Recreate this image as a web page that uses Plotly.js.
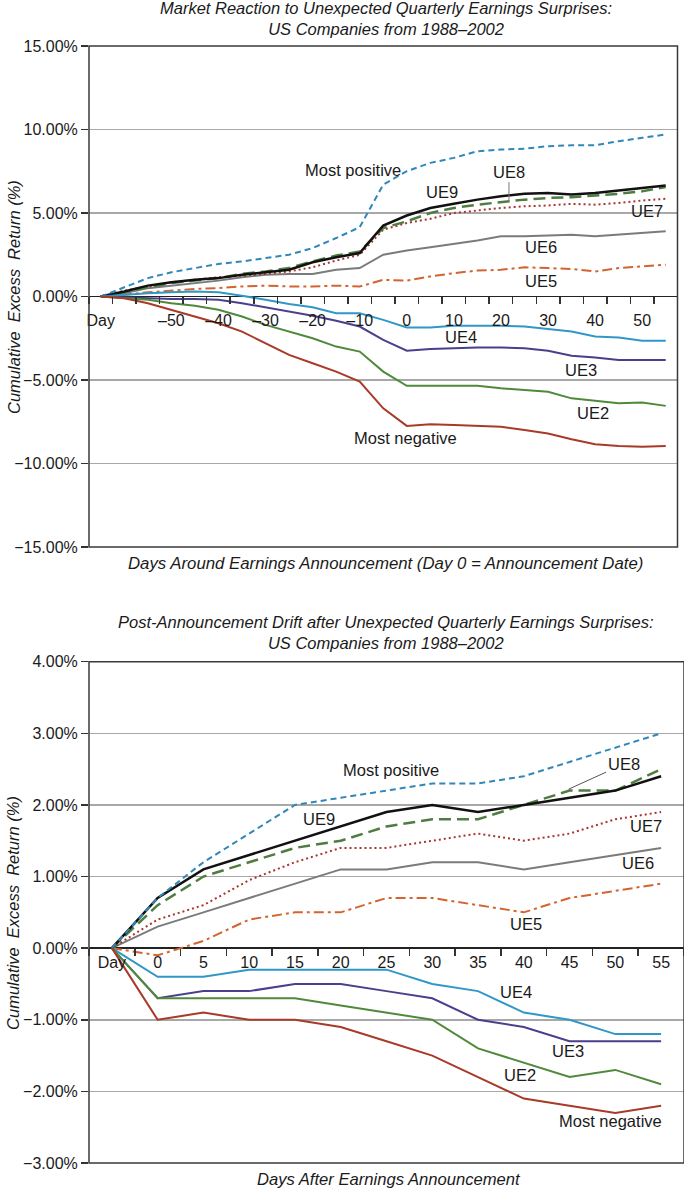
<!DOCTYPE html>
<html>
<head>
<meta charset="utf-8">
<script src="https://cdn.plot.ly/plotly-3.0.1.min.js"></script>
<style>
  body { margin: 0; background: #fff; }
  #chart { width: 684px; height: 1189px; }
</style>
</head>
<body>
<div id="chart"></div>
<script>
// days around the announcement; the first slot is the "Day" start point
const topDays = [-65, -60, -55, -50, -45, -40, -35, -30, -25, -20, -15, -10, -5,
  0, 5, 10, 15, 20, 25, 30, 35, 40, 45, 50, 55];
const topTickVals = [-65, -50, -40, -30, -20, -10, 0, 10, 20, 30, 40, 50];
const topTickText = ['Day', '–50', '–40', '–30', '–20', '–10', '0', '10', '20', '30', '40', '50'];

const bottomDays = [-5, 0, 5, 10, 15, 20, 25, 30, 35, 40, 45, 50, 55];
const bottomTickVals = [-5, 0, 5, 10, 15, 20, 25, 30, 35, 40, 45, 50, 55];
const bottomTickText = ['Day', '0', '5', '10', '15', '20', '25', '30', '35', '40', '45', '50', '55'];

// cumulative excess return (%), market reaction chart
const topMostPos = [0, 0.55, 1.1, 1.45, 1.7, 1.95, 2.1, 2.3, 2.5, 2.9, 3.5, 4.15, 6.7, 7.5, 8.0, 8.3, 8.7, 8.8, 8.85, 9.0, 9.05, 9.05, 9.3, 9.5, 9.7];
const topUE9 = [0, 0.3, 0.65, 0.85, 1.0, 1.1, 1.3, 1.45, 1.6, 2.05, 2.35, 2.6, 4.25, 4.85, 5.3, 5.55, 5.8, 6.0, 6.15, 6.2, 6.1, 6.2, 6.35, 6.5, 6.65];
const topUE8 = [0, 0.25, 0.55, 0.8, 0.95, 1.1, 1.35, 1.5, 1.7, 2.1, 2.45, 2.7, 4.1, 4.5, 5.0, 5.3, 5.5, 5.65, 5.8, 5.9, 5.95, 6.05, 6.15, 6.3, 6.55];
const topUE7 = [0, 0.35, 0.6, 0.85, 1.0, 1.15, 1.25, 1.35, 1.5, 1.75, 2.15, 2.5, 4.0, 4.4, 4.65, 5.0, 5.15, 5.3, 5.4, 5.45, 5.55, 5.5, 5.6, 5.75, 5.85];
const topUE6 = [0, 0.2, 0.5, 0.65, 0.8, 0.95, 1.15, 1.3, 1.35, 1.35, 1.6, 1.7, 2.5, 2.75, 2.95, 3.15, 3.35, 3.6, 3.6, 3.65, 3.7, 3.6, 3.7, 3.8, 3.9];
const topUE5 = [0, 0.1, 0.25, 0.35, 0.45, 0.5, 0.6, 0.65, 0.6, 0.6, 0.65, 0.6, 1.0, 0.95, 1.2, 1.4, 1.55, 1.6, 1.75, 1.7, 1.65, 1.5, 1.7, 1.8, 1.9];
const topUE4 = [0, 0.1, 0.2, 0.25, 0.3, 0.25, 0.05, -0.2, -0.45, -0.65, -1.0, -1.0, -1.4, -1.85, -1.85, -1.75, -1.75, -1.75, -1.8, -1.95, -2.1, -2.4, -2.45, -2.65, -2.65];
const topUE3 = [0, -0.05, -0.1, -0.15, -0.15, -0.2, -0.4, -0.65, -0.9, -1.15, -1.45, -1.8, -2.6, -3.25, -3.15, -3.1, -3.05, -3.05, -3.1, -3.25, -3.55, -3.65, -3.8, -3.8, -3.8];
const topUE2 = [0, -0.1, -0.2, -0.4, -0.55, -0.8, -1.2, -1.7, -2.1, -2.5, -3.0, -3.3, -4.5, -5.35, -5.35, -5.35, -5.35, -5.5, -5.6, -5.7, -6.1, -6.25, -6.4, -6.35, -6.55];
const topMostNeg = [0, -0.1, -0.4, -0.8, -1.2, -1.6, -2.1, -2.8, -3.5, -4.0, -4.5, -5.1, -6.7, -7.75, -7.65, -7.7, -7.75, -7.8, -8.0, -8.2, -8.55, -8.85, -8.95, -9.0, -8.95];

// cumulative excess return (%), post-announcement drift chart
const botMostPos = [0, 0.7, 1.2, 1.6, 2.0, 2.1, 2.2, 2.3, 2.3, 2.4, 2.6, 2.8, 3.0];
const botUE9 = [0, 0.7, 1.1, 1.3, 1.5, 1.7, 1.9, 2.0, 1.9, 2.0, 2.1, 2.2, 2.4];
const botUE8 = [0, 0.6, 1.0, 1.2, 1.4, 1.5, 1.7, 1.8, 1.8, 2.0, 2.2, 2.2, 2.5];
const botUE7 = [0, 0.4, 0.6, 0.95, 1.2, 1.4, 1.4, 1.5, 1.6, 1.5, 1.6, 1.8, 1.9];
const botUE6 = [0, 0.3, 0.5, 0.7, 0.9, 1.1, 1.1, 1.2, 1.2, 1.1, 1.2, 1.3, 1.4];
const botUE5 = [0, -0.1, 0.1, 0.4, 0.5, 0.5, 0.7, 0.7, 0.6, 0.5, 0.7, 0.8, 0.9];
const botUE4 = [0, -0.4, -0.4, -0.3, -0.3, -0.3, -0.3, -0.5, -0.6, -0.9, -1.0, -1.2, -1.2];
const botUE3 = [0, -0.7, -0.6, -0.6, -0.5, -0.5, -0.6, -0.7, -1.0, -1.1, -1.3, -1.3, -1.3];
const botUE2 = [0, -0.7, -0.7, -0.7, -0.7, -0.8, -0.9, -1.0, -1.4, -1.6, -1.8, -1.7, -1.9];
const botMostNeg = [0, -1.0, -0.9, -1.0, -1.0, -1.1, -1.3, -1.5, -1.8, -2.1, -2.2, -2.3, -2.2];

const FONT = '"Liberation Sans", Arial, sans-serif';
const INK = '#1a1a1a';

const styles = {
  mostPos: { color: '#2f88b8', dash: '6px,4px', width: 2 },
  ue9: { color: '#111111', dash: 'solid', width: 2.5 },
  ue8: { color: '#4f7d41', dash: '12px,6px', width: 2.5 },
  ue7: { color: '#a8362e', dash: '2px,3px', width: 2 },
  ue6: { color: '#7b7b7b', dash: 'solid', width: 2 },
  ue5: { color: '#d4642f', dash: '10px,4px,3px,4px', width: 2 },
  ue4: { color: '#2f98c6', dash: 'solid', width: 2 },
  ue3: { color: '#4a3f8c', dash: 'solid', width: 2 },
  ue2: { color: '#4f8a3b', dash: 'solid', width: 2 },
  mostNeg: { color: '#a93a28', dash: 'solid', width: 2 }
};

function line(x, y, key, xa, ya) {
  const s = styles[key];
  return {
    type: 'scatter', mode: 'lines', name: key, x: x, y: y,
    xaxis: xa, yaxis: ya, hoverinfo: 'skip',
    line: { color: s.color, dash: s.dash, width: s.width }
  };
}

const data = [
  line(topDays, topUE5, 'ue5', 'x', 'y'),
  line(topDays, topUE6, 'ue6', 'x', 'y'),
  line(topDays, topUE7, 'ue7', 'x', 'y'),
  line(topDays, topUE8, 'ue8', 'x', 'y'),
  line(topDays, topUE9, 'ue9', 'x', 'y'),
  line(topDays, topMostPos, 'mostPos', 'x', 'y'),
  line(topDays, topUE4, 'ue4', 'x', 'y'),
  line(topDays, topUE3, 'ue3', 'x', 'y'),
  line(topDays, topUE2, 'ue2', 'x', 'y'),
  line(topDays, topMostNeg, 'mostNeg', 'x', 'y'),
  line(bottomDays, botUE5, 'ue5', 'x2', 'y2'),
  line(bottomDays, botUE6, 'ue6', 'x2', 'y2'),
  line(bottomDays, botUE7, 'ue7', 'x2', 'y2'),
  line(bottomDays, botUE8, 'ue8', 'x2', 'y2'),
  line(bottomDays, botUE9, 'ue9', 'x2', 'y2'),
  line(bottomDays, botMostPos, 'mostPos', 'x2', 'y2'),
  line(bottomDays, botUE4, 'ue4', 'x2', 'y2'),
  line(bottomDays, botUE3, 'ue3', 'x2', 'y2'),
  line(bottomDays, botUE2, 'ue2', 'x2', 'y2'),
  line(bottomDays, botMostNeg, 'mostNeg', 'x2', 'y2')
];

// series labels: [text, day, value, axis]
const labels = [
  ['Most positive', -11.5, 7.57, 1], ['UE9', 7.5, 6.28, 1], ['UE7', 51.1, 5.14, 1],
  ['UE6', 28.6, 2.99, 1], ['UE5', 28.6, 0.94, 1], ['UE4', 11.6, -2.45, 1],
  ['UE3', 36.9, -4.38, 1], ['UE2', 39.6, -6.97, 1], ['Most negative', -0.3, -8.46, 1],
  ['Most positive', 25.5, 2.49, 2], ['UE9', 17.6, 1.81, 2], ['UE7', 53.3, 1.70, 2],
  ['UE6', 52.5, 1.19, 2], ['UE5', 40.2, 0.34, 2], ['UE4', 39.2, -0.61, 2],
  ['UE3', 44.8, -1.44, 2], ['UE2', 39.6, -1.77, 2], ['Most negative', 49.5, -2.42, 2]
];

const labelFont = { family: FONT, size: 16.5, color: INK };
const annotations = labels.map(([text, d, v, k]) => ({
  text: text, x: d, y: v, xref: k === 1 ? 'x' : 'x2', yref: k === 1 ? 'y' : 'y2',
  showarrow: false, font: labelFont
}));

// UE8 labels with leader lines
annotations.push({
  text: 'UE8', x: 21.7, y: 5.68, xref: 'x', yref: 'y', showarrow: true,
  arrowhead: 0, arrowwidth: 1, arrowcolor: '#777', ax: 0, ay: -30, standoff: 0, font: labelFont
});
annotations.push({
  text: 'UE8', x: 44.9, y: 2.22, xref: 'x2', yref: 'y2', showarrow: true,
  arrowhead: 0, arrowwidth: 1, arrowcolor: '#555', ax: 55, ay: -25, standoff: 0, font: labelFont
});

const italic = (size) => ({ family: FONT, size: size, color: INK, style: 'italic' });

function note(text, x, y, size, angle) {
  return {
    text: text, xref: 'paper', yref: 'paper', x: x, y: y, xanchor: 'center', yanchor: 'middle',
    showarrow: false, font: italic(size), textangle: angle || 0
  };
}

annotations.push(note('Market Reaction to Unexpected Quarterly Earnings Surprises:<br>US Companies from 1988–2002', 0.499, 1.0245, 16.5));
annotations.push(note('Post-Announcement Drift after Unexpected Quarterly Earnings Surprises:<br>US Companies from 1988–2002', 0.499, 0.4745, 16.5));
annotations.push(note('Days Around Earnings Announcement (Day 0 = Announcement Date)', 0.4975, 0.5369, 16.8));
annotations.push(note('Days After Earnings Announcement', 0.504, -0.0152, 16.6));
annotations.push(note('Cumulative  Excess  Return (%)', -0.127, 0.7757, 16.5, -90));
annotations.push(note('Cumulative  Excess  Return (%)', -0.127, 0.2243, 16.5, -90));

const tickFont = { family: FONT, size: 16, color: INK };

function xAxis(domain, range, pos, vals, text, minor0, lift) {
  return {
    domain: domain, range: range, anchor: 'free', position: pos,
    tickmode: 'array', tickvals: vals, ticktext: text, tickfont: tickFont,
    ticks: 'outside', ticklen: lift, tickcolor: 'rgba(0,0,0,0)',
    showgrid: false, zeroline: false, showline: false, fixedrange: true,
    minor: { tick0: minor0, dtick: 5, ticks: 'outside', ticklen: 7, tickwidth: 1.5, tickcolor: '#333', showgrid: false }
  };
}

function yAxis(domain, range, dtick, anchor) {
  return {
    domain: domain, range: range, dtick: dtick, tick0: 0, anchor: anchor,
    tickformat: '.2f', ticksuffix: '%', tickfont: tickFont,
    ticks: 'outside', ticklen: 7, tickwidth: 1.5, tickcolor: '#333',
    showgrid: true, gridcolor: '#a8a8a8', gridwidth: 1.5,
    zeroline: true, zerolinecolor: '#222', zerolinewidth: 1.5,
    showline: false, fixedrange: true
  };
}

const frame = (xr, yr) => ({
  type: 'rect', xref: xr + ' domain', yref: yr + ' domain', x0: 0, x1: 1, y0: 0, y1: 1,
  line: { color: '#3a3a3a', width: 1.5 }, fillcolor: 'rgba(0,0,0,0)', layer: 'above'
});

const layout = {
  width: 684, height: 1189,
  margin: { l: 89, r: 0, t: 46, b: 26 },
  paper_bgcolor: '#fff', plot_bgcolor: '#fff',
  showlegend: false,
  font: { family: FONT, color: INK },
  xaxis: xAxis([0, 0.98908], [-67.5, 57.5], 0.77575, topTickVals, topTickText, -62.5, 9),
  yaxis: yAxis([0.5515, 1], [-15, 15], 5, 'x'),
  xaxis2: xAxis([0, 1], [-7.5, 57.5], 0.19234, bottomTickVals, bottomTickText, -2.5, 0),
  yaxis2: yAxis([0, 0.4488], [-3, 4], 1, 'x2'),
  shapes: [frame('x', 'y'), frame('x2', 'y2')],
  annotations: annotations
};

Plotly.newPlot(document.getElementById('chart'), data, layout, { displayModeBar: false, staticPlot: true });
</script>
</body>
</html>
